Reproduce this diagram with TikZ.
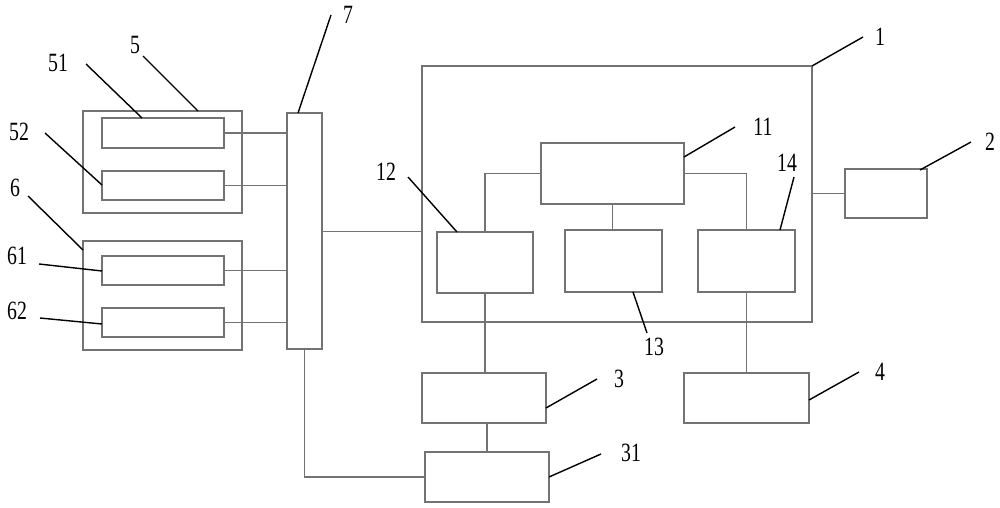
\documentclass[tikz,border=0pt]{standalone}
\usepackage{fontspec}
\setmainfont{Liberation Serif}
\usetikzlibrary{fit}
\begin{document}
\begin{tikzpicture}[x=0.02cm,y=-0.02cm,
  box/.style={draw=black!55,line width=0.7pt,inner sep=0pt,rectangle},
  wire/.style={draw=black!55,line width=0.6pt},
  leader/.style={draw=black,line width=0.8pt},
  lbl/.style={inner sep=0pt,font=\fontsize{15}{15}\selectfont,xscale=0.75}]
\useasboundingbox (0,0) rectangle (1000,507);
% boxes
\node[box,fit={(83,111) (242,213)}] (b5) {};
\node[box,fit={(102,118) (224,148)}] (b51) {};
\node[box,fit={(102,171) (224,200)}] (b52) {};
\node[box,fit={(83,241) (242,350)}] (b6) {};
\node[box,fit={(102,256) (224,285)}] (b61) {};
\node[box,fit={(102,308) (224,337)}] (b62) {};
\node[box,fit={(287,113) (322,349)}] (b7) {};
\node[box,fit={(422,66) (812,322)}] (b1) {};
\node[box,fit={(541,143) (684,204)}] (b11) {};
\node[box,fit={(437,232) (533,293)}] (b12) {};
\node[box,fit={(565,230) (662,292)}] (b13) {};
\node[box,fit={(698,230) (795,292)}] (b14) {};
\node[box,fit={(845,169) (927,218)}] (b2) {};
\node[box,fit={(422,373) (546,423)}] (b3) {};
\node[box,fit={(684,373) (809,423)}] (b4) {};
\node[box,fit={(425,452) (549,502)}] (b31) {};
% wires
\draw[wire] (b51.east) -- (b51.east -| b7.west);
\draw[wire] (b52.east) -- (b52.east -| b7.west);
\draw[wire] (b61.east) -- (b61.east -| b7.west);
\draw[wire] (b62.east) -- (b62.east -| b7.west);
\draw[wire] (b7.east |- b12.north) -- (b1.west |- b12.north);
\draw[wire] (b11.west) -| (b12.north);
\draw[wire] (b11.east) -| (b14.north);
\draw[wire] (b11.south) -- (b11.south |- b13.north);
\draw[wire] (b2.west) -- (b2.west -| b1.east);
\draw[wire] (b12.south) -- (b12.south |- b3.north);
\draw[wire] (b14.south) -- (b14.south |- b4.north);
\draw[wire] (b31.north) -- (b31.north |- b3.south);
\draw[wire] (b7.south) |- (b31.west);
% labels
\node[lbl] (t5) at (135,45) {5};
\node[lbl] (t51) at (58,63) {51};
\node[lbl] (t52) at (19,132) {52};
\node[lbl] (t6) at (15,188) {6};
\node[lbl] (t61) at (17,256) {61};
\node[lbl] (t62) at (17,311) {62};
\node[lbl] (t7) at (348,15) {7};
\node[lbl] (t1) at (880,37) {1};
\node[lbl] (t11) at (763,127) {11};
\node[lbl] (t2) at (990,142) {2};
\node[lbl] (t12) at (386,172) {12};
\node[lbl] (t14) at (787,163) {14};
\node[lbl] (t13) at (654,347) {13};
\node[lbl] (t3) at (619,379) {3};
\node[lbl] (t4) at (880,372) {4};
\node[lbl] (t31) at (631,453) {31};
% leaders
\draw[leader] (143,56) -- (198,111);
\draw[leader] (86,64) -- (142,118);
\draw[leader] (45,133) -- (102,185);
\draw[leader] (28,196) -- (83,250);
\draw[leader] (39,264) -- (102,271);
\draw[leader] (40,318) -- (102,324);
\draw[leader] (331,15) -- (298,113);
\draw[leader] (863,37) -- (812,66);
\draw[leader] (735,127) -- (684,157);
\draw[leader] (971,142) -- (920,170);
\draw[leader] (408,177) -- (457,232);
\draw[leader] (794,177) -- (780,230);
\draw[leader] (647,333) -- (633,292);
\draw[leader] (597,379) -- (546,408);
\draw[leader] (859,372) -- (809,400);
\draw[leader] (601,454) -- (549,477);
\end{tikzpicture}
\end{document}
